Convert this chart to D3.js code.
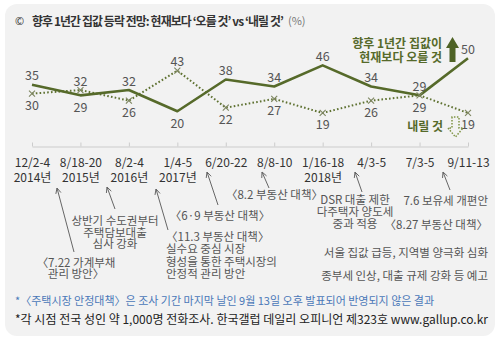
<!DOCTYPE html>
<html><head><meta charset="utf-8">
<script src="https://cdn.jsdelivr.net/npm/d3@7"></script>
<style>
html,body{margin:0;padding:0;background:#fff;}
svg{display:block;font-family:"Noto Sans CJK KR","Noto Sans",sans-serif;}
</style></head>
<body><svg id="c" width="500" height="343"></svg>
<script>
const dates = ["12/2-4","8/18-20","8/2-4","1/4-5","6/20-22","8/8-10","1/16-18","4/3-5","7/3-5","9/11-13"];
const years = ["2014년","2015년","2016년","2017년","","","2018년","","",""];
const upVals = [35,29,32,20,38,34,46,34,29,50];
const downVals = [30,32,26,43,22,27,19,26,29,19];
const titleText = "향후 1년간 집값 등락 전망: 현재보다 ‘오를 것’ vs ‘내릴 것’";
const upLegend = ["향후 1년간 집값이","현재보다 오를 것"];
const downLegend = "내릴 것";
const footNote1 = "*〈주택시장 안정대책〉은 조사 기간 마지막 날인 9월 13일 오후 발표되어 반영되지 않은 결과";
const footNote2 = "*각 시점 전국 성인 약 1,000명 전화조사. 한국갤럽 데일리 오피니언 제323호 www.gallup.co.kr";

const olive = "#566a2a";
const svg = d3.select("#c");

// panel
svg.append("rect").attr("x",5).attr("y",4).attr("width",490).attr("height",332)
  .attr("rx",12).attr("fill","#f2f2f2");

// title
svg.append("text").attr("x",15).attr("y",20).attr("dominant-baseline","central")
  .attr("font-size",11).attr("fill","#333").text("©");
svg.append("text").attr("x",32).attr("y",20).attr("dominant-baseline","central")
  .attr("font-size",12).attr("font-weight","bold").attr("fill","#333")
  .attr("letter-spacing",-0.9).attr("textLength",251).attr("lengthAdjust","spacingAndGlyphs")
  .text(titleText);
svg.append("text").attr("x",288).attr("y",20).attr("dominant-baseline","central")
  .attr("font-size",11).attr("fill","#777").text("(%)");

// scales
const x = d3.scalePoint().domain(d3.range(dates.length)).range([32,468]);
const y = d3.scaleLinear().domain([0,50]).range([146.5,58.3]);

// axis
const ax = svg.append("g").attr("transform","translate(0,146.5)")
  .call(d3.axisBottom(x).tickSize(-4).tickSizeOuter(0).tickPadding(12).tickFormat(i=>dates[i]));
ax.select(".domain").attr("stroke","#ccc");
ax.selectAll(".tick line").attr("stroke","#ccc");
ax.selectAll(".tick text").attr("font-size",12).attr("fill","#333")
  .attr("font-family","'Noto Sans CJK KR',sans-serif")
  .each(function(i){
    const t = d3.select(this);
    t.text(null);
    t.append("tspan").attr("x",0).text(dates[i]);
    if(years[i]) t.append("tspan").attr("x",0).attr("dy","1.25em").text(years[i]);
  });

// lines
const lineGen = d3.line().x((d,i)=>x(i)).y(d=>y(d));
svg.append("path").datum(downVals).attr("d",lineGen).attr("fill","none")
  .attr("stroke","#5f7232").attr("stroke-width",2).attr("stroke-dasharray","1.6,2.2");
svg.append("path").datum(upVals).attr("d",lineGen).attr("fill","none")
  .attr("stroke",olive).attr("stroke-width",2.6).attr("stroke-linejoin","round");

// x markers
svg.append("g").selectAll("path").data(downVals).join("path")
  .attr("transform",(d,i)=>`translate(${x(i)},${y(d)})`)
  .attr("d","M-3,-3L3,3M-3,3L3,-3").attr("stroke","#7d8560").attr("stroke-width",1.1);

// value labels
const lab = svg.append("g").attr("font-size",12.5).attr("fill","#555").attr("text-anchor","middle");
upVals.forEach((u,i)=>{
  const d = downVals[i];
  const upAbove = u >= d;
  lab.append("text").attr("x",x(i)).attr("y",y(u)+(upAbove?-10:11)).attr("dominant-baseline","central").text(u);
  lab.append("text").attr("x",x(i)).attr("y",y(d)+(upAbove?11:-10)).attr("dominant-baseline","central").text(d);
});

// legend
const lg = svg.append("g").attr("font-size",12).attr("font-weight","bold").attr("fill",olive).attr("text-anchor","end");
const lgt = lg.append("text").attr("y",42).attr("dominant-baseline","central");
upLegend.forEach((s,k)=>lgt.append("tspan").attr("x",442).attr("dy",k?13.5:0).text(s));
lg.append("text").attr("x",443).attr("y",125).attr("dominant-baseline","central").text(downLegend);
svg.append("path").attr("d","M449.5,62V48H446L452.5,37L459,48H455.5V62Z").attr("fill","#4f6326");
svg.append("path").attr("d","M452,117V128H448L455.5,137L463,128H459V117Z").attr("fill","none")
  .attr("stroke","#7f9444").attr("stroke-width",1.5).attr("stroke-dasharray","1.5,1.5");

// annotations
const an = svg.append("g").attr("font-size",11.5).attr("fill","#555");
function arrow(x1,y1,x2,y2){
  an.append("line").attr("x1",x1).attr("y1",y1).attr("x2",x2).attr("y2",y2).attr("stroke","#666").attr("stroke-width",1);
  const a = Math.atan2(y1-y2,x1-x2), L=6, s=0.45;
  an.append("path").attr("d",`M${x2+L*Math.cos(a+s)},${y2+L*Math.sin(a+s)}L${x2},${y2}L${x2+L*Math.cos(a-s)},${y2+L*Math.sin(a-s)}`)
    .attr("fill","none").attr("stroke","#666").attr("stroke-width",1);
}
function lines(arr,xx,y0,step,anchor){
  const t = an.append("text").attr("y",y0).attr("text-anchor",anchor).attr("dominant-baseline","central");
  arr.forEach((s,k)=>t.append("tspan").attr("x",xx).attr("dy",k?step:0).text(s));
}
arrow(74,252,57,188);
lines(["〈7.22 가계부채","관리 방안〉"],76,261.5,11.5,"middle");
arrow(115,209,107,187);
lines(["상반기 수도권부터","주택담보대출","심사 강화"],115,220,11.5,"middle");
arrow(168,230,156,189);
lines(["〈11.3 부동산 대책〉","실수요 중심 시장","형성을 통한 주택시장의","안정적 관리 방안"],166,236,12.3,"start");
arrow(218,205,207,172);
lines(["〈6·9 부동산 대책〉"],220,215,0,"middle");
arrow(269,188,262,172);
lines(["〈8.2 부동산 대책〉"],274.5,194,0,"middle");
arrow(362,192,355,172);
lines(["DSR 대출 제한","다주택자 양도세","중과 적용"],355,199,12,"middle");
arrow(450,190,443,172);
lines(["7.6 보유세 개편안","〈8.27 부동산 대책〉"],488,200,24,"end");
lines(["서울 집값 급등, 지역별 양극화 심화","종부세 인상, 대출 규제 강화 등 예고"],488,252,23,"end");

// footer
svg.append("text").attr("x",15).attr("y",300).attr("dominant-baseline","central")
  .attr("font-size",11).attr("fill","#4a78b8").text(footNote1);
svg.append("text").attr("x",15).attr("y",318).attr("dominant-baseline","central")
  .attr("font-size",12).attr("fill","#222").text(footNote2)
  .attr("textLength",473).attr("lengthAdjust","spacingAndGlyphs");
</script></body></html>
